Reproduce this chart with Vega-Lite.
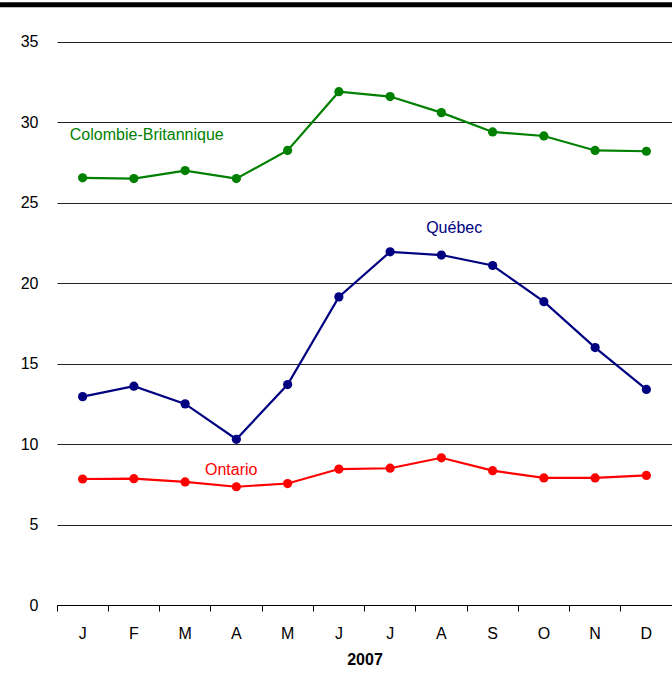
{
  "$schema": "https://vega.github.io/schema/vega-lite/v6.json",
  "width": 615,
  "height": 605,
  "autosize": "none",
  "padding": {"left": 57, "top": 0, "right": 0, "bottom": 70},
  "background": "white",
  "config": {"view": {"stroke": null}, "font": "Liberation Sans"},
  "datasets": {
    "series": [
      {"month": "J1", "region": "Colombie-Britannique", "value": 26.55},
      {"month": "F", "region": "Colombie-Britannique", "value": 26.5},
      {"month": "M1", "region": "Colombie-Britannique", "value": 27.0},
      {"month": "A1", "region": "Colombie-Britannique", "value": 26.5},
      {"month": "M2", "region": "Colombie-Britannique", "value": 28.25},
      {"month": "J2", "region": "Colombie-Britannique", "value": 31.9},
      {"month": "J3", "region": "Colombie-Britannique", "value": 31.6},
      {"month": "A2", "region": "Colombie-Britannique", "value": 30.6},
      {"month": "S", "region": "Colombie-Britannique", "value": 29.4},
      {"month": "O", "region": "Colombie-Britannique", "value": 29.15},
      {"month": "N", "region": "Colombie-Britannique", "value": 28.25},
      {"month": "D", "region": "Colombie-Britannique", "value": 28.2},
      {"month": "J1", "region": "Québec", "value": 12.95},
      {"month": "F", "region": "Québec", "value": 13.6},
      {"month": "M1", "region": "Québec", "value": 12.5},
      {"month": "A1", "region": "Québec", "value": 10.3},
      {"month": "M2", "region": "Québec", "value": 13.7},
      {"month": "J2", "region": "Québec", "value": 19.15},
      {"month": "J3", "region": "Québec", "value": 21.95},
      {"month": "A2", "region": "Québec", "value": 21.75},
      {"month": "S", "region": "Québec", "value": 21.1},
      {"month": "O", "region": "Québec", "value": 18.85},
      {"month": "N", "region": "Québec", "value": 16.0},
      {"month": "D", "region": "Québec", "value": 13.4},
      {"month": "J1", "region": "Ontario", "value": 7.83},
      {"month": "F", "region": "Ontario", "value": 7.85},
      {"month": "M1", "region": "Ontario", "value": 7.65},
      {"month": "A1", "region": "Ontario", "value": 7.35},
      {"month": "M2", "region": "Ontario", "value": 7.55},
      {"month": "J2", "region": "Ontario", "value": 8.45},
      {"month": "J3", "region": "Ontario", "value": 8.5},
      {"month": "A2", "region": "Ontario", "value": 9.15},
      {"month": "S", "region": "Ontario", "value": 8.35},
      {"month": "O", "region": "Ontario", "value": 7.9},
      {"month": "N", "region": "Ontario", "value": 7.9},
      {"month": "D", "region": "Ontario", "value": 8.05}
    ]
  },
  "layer": [
    {
      "data": {"values": [{"x0": -1.112, "x1": 12, "y": 37.3}]},
      "mark": {"type": "rule", "color": "black", "strokeWidth": 5, "clip": false},
      "encoding": {
        "x": {"field": "x0", "type": "quantitative", "scale": {"domain": [0, 12], "zero": false, "nice": false}, "axis": null},
        "x2": {"field": "x1"},
        "y": {"field": "y", "type": "quantitative"}
      }
    },
    {
      "layer": [
        {
          "data": {"name": "series"},
          "mark": {"type": "line", "strokeWidth": 2.2},
          "encoding": {
            "x": {
              "field": "month", "type": "nominal",
              "scale": {"type": "band", "domain": ["J1","F","M1","A1","M2","J2","J3","A2","S","O","N","D"], "paddingInner": 0, "paddingOuter": 0},
              "axis": {
                "orient": "bottom",
                "title": "2007",
                "labelExpr": "slice(datum.value, 0, 1)",
                "labelAngle": 0,
                "bandPosition": 0,
                "tickSize": 6,
                "tickColor": "black",
                "domainColor": "black",
                "labelFont": "Liberation Sans",
                "labelFontSize": 16,
                "labelColor": "black",
                "labelPadding": 14,
                "titleFont": "Liberation Sans",
                "titleFontSize": 16,
                "titleFontWeight": "bold",
                "titleColor": "black",
                "titlePadding": 10,
                "grid": false
              }
            },
            "y": {
              "field": "value", "type": "quantitative",
              "scale": {"domain": [0, 37.6], "nice": false},
              "axis": {
                "title": null,
                "values": [0, 5, 10, 15, 20, 25, 30, 35],
                "domain": false,
                "ticks": false,
                "grid": true,
                "gridColor": "#222222",
                "gridWidth": 1,
                "gridOpacity": 1,
                "labelFont": "Liberation Sans",
                "labelFontSize": 16,
                "labelColor": "black",
                "labelPadding": 19
              }
            },
            "color": {
              "field": "region", "type": "nominal",
              "scale": {"domain": ["Colombie-Britannique", "Québec", "Ontario"], "range": ["#008000", "#000080", "#ff0000"]},
              "legend": null
            }
          }
        },
        {
          "data": {"name": "series"},
          "mark": {"type": "point", "filled": true, "size": 85, "opacity": 1},
          "encoding": {
            "x": {"field": "month", "type": "nominal"},
            "y": {"field": "value", "type": "quantitative"},
            "color": {"field": "region", "type": "nominal", "legend": null}
          }
        },
        {
          "data": {"values": [
            {"month": "J1", "region": "Colombie-Britannique", "value": 29.2}
          ]},
          "mark": {"type": "text", "align": "left", "baseline": "middle", "fontSize": 16, "font": "Liberation Sans"},
          "encoding": {
            "x": {"field": "month", "type": "nominal", "bandPosition": 0.25},
            "y": {"field": "value", "type": "quantitative"},
            "text": {"field": "region"},
            "color": {"field": "region", "type": "nominal", "legend": null}
          }
        },
        {
          "data": {"values": [
            {"month": "A2", "region": "Québec", "value": 23.45}
          ]},
          "mark": {"type": "text", "align": "center", "baseline": "middle", "fontSize": 16, "font": "Liberation Sans"},
          "encoding": {
            "x": {"field": "month", "type": "nominal", "bandPosition": 0.75},
            "y": {"field": "value", "type": "quantitative"},
            "text": {"field": "region"},
            "color": {"field": "region", "type": "nominal", "legend": null}
          }
        },
        {
          "data": {"values": [
            {"month": "A1", "region": "Ontario", "value": 8.4}
          ]},
          "mark": {"type": "text", "align": "center", "baseline": "middle", "fontSize": 16, "font": "Liberation Sans"},
          "encoding": {
            "x": {"field": "month", "type": "nominal", "bandPosition": 0.4},
            "y": {"field": "value", "type": "quantitative"},
            "text": {"field": "region"},
            "color": {"field": "region", "type": "nominal", "legend": null}
          }
        }
      ]
    }
  ],
  "resolve": {"scale": {"x": "independent"}}
}
